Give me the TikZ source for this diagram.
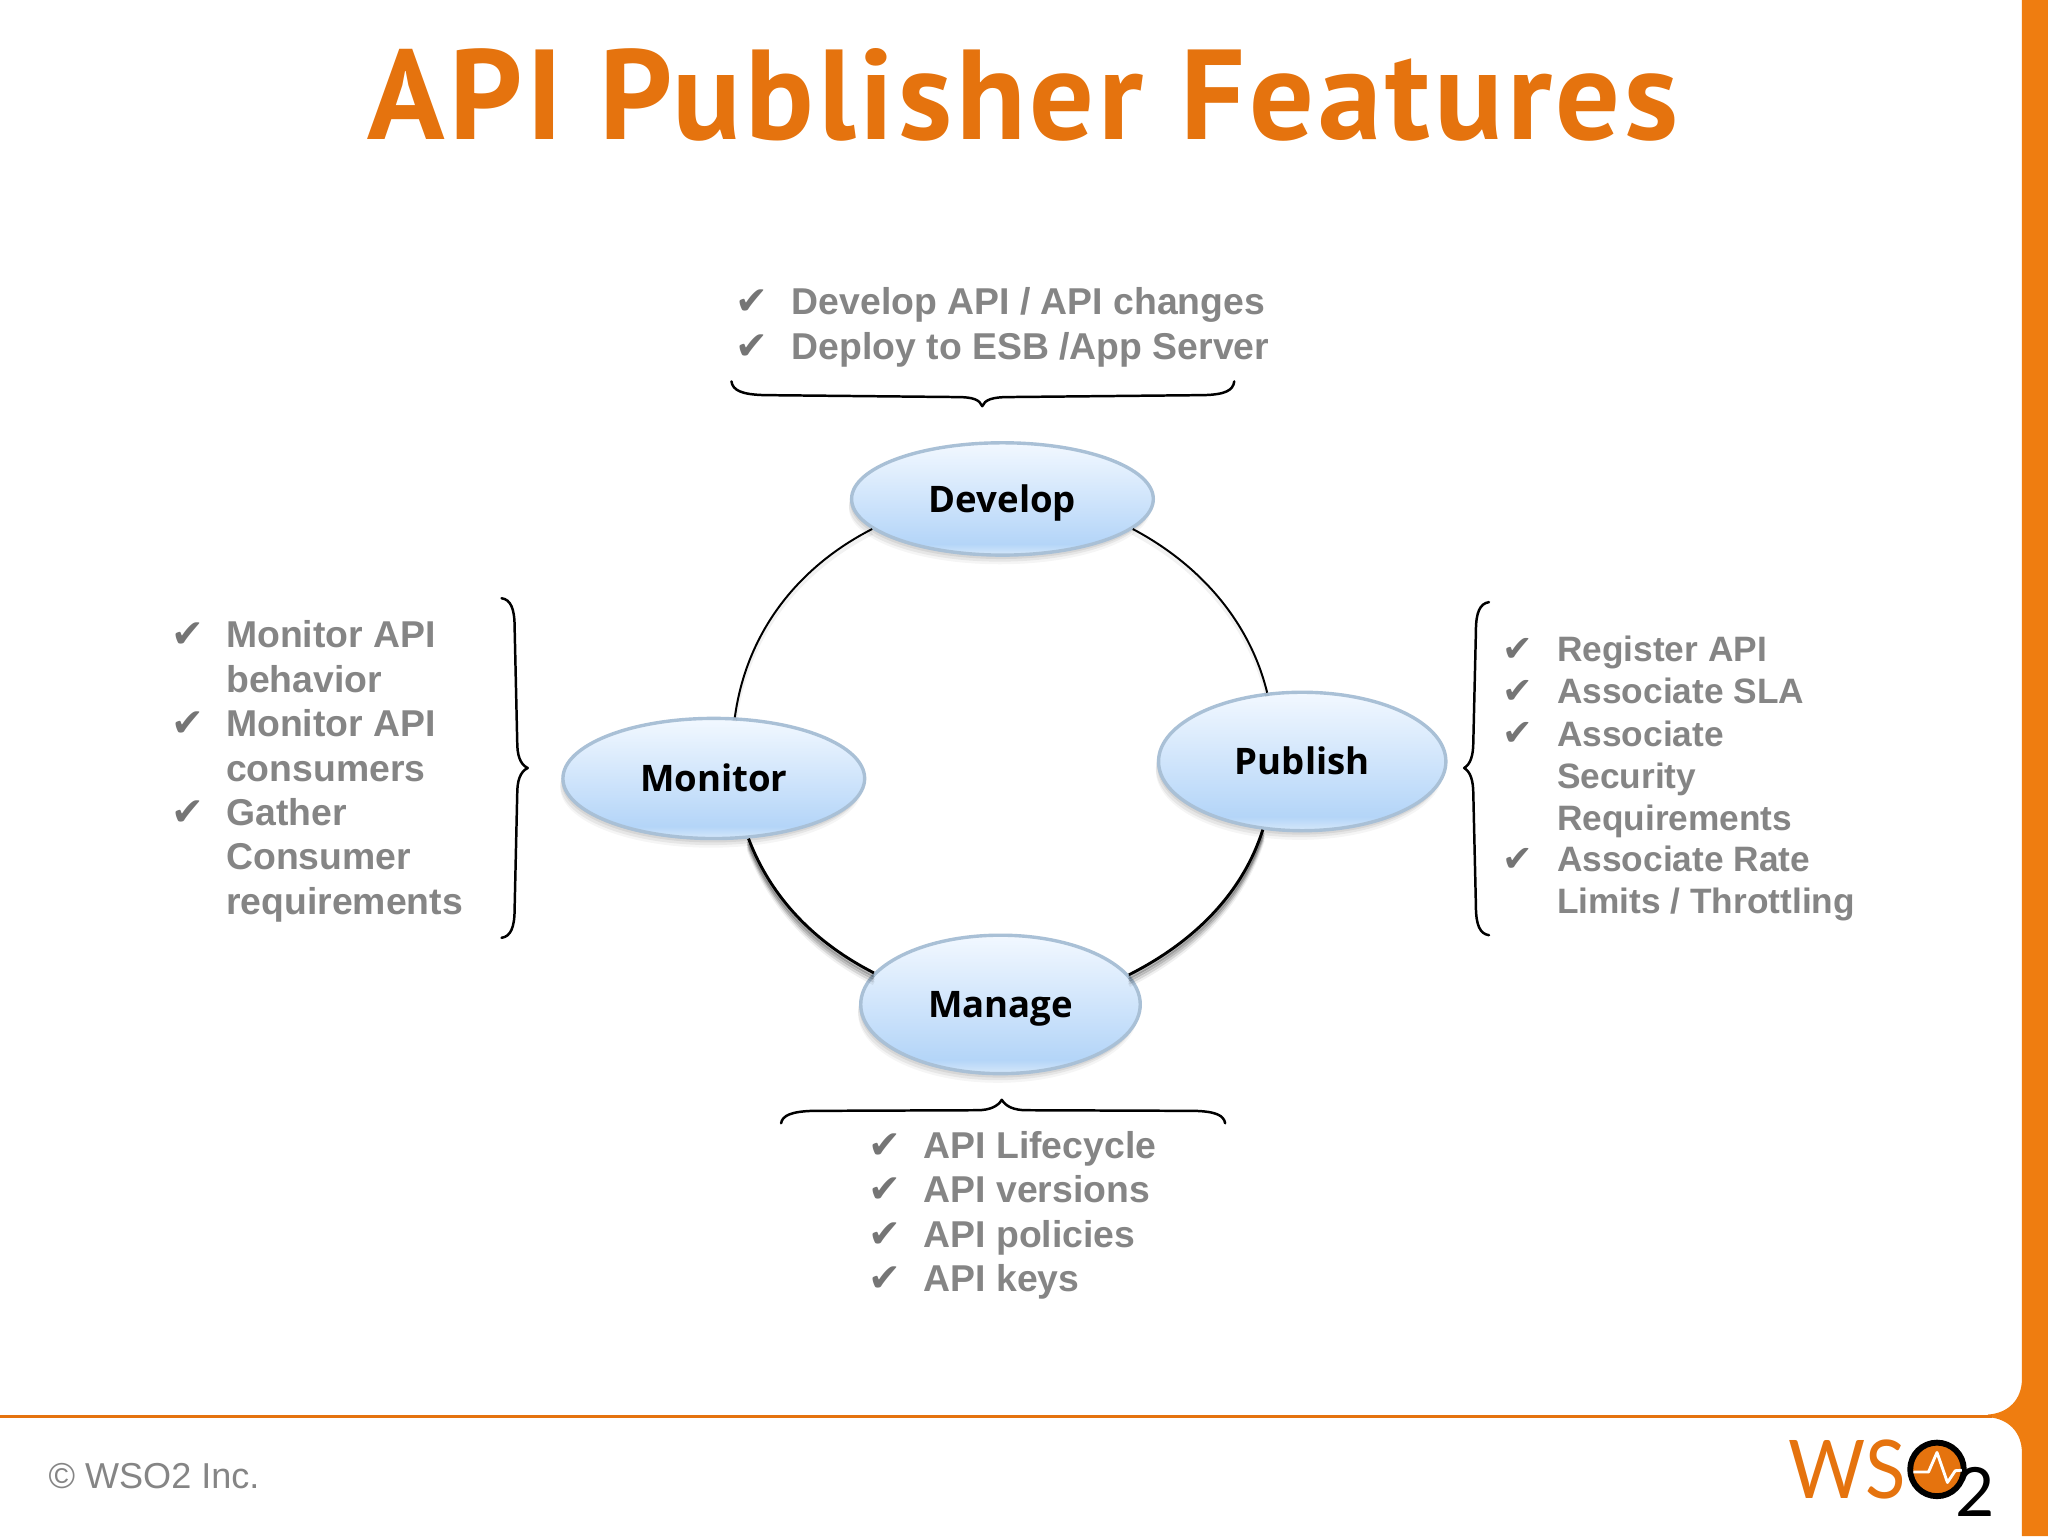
\documentclass[tikz,border=0pt]{standalone}
\usepackage{fontspec}
\usetikzlibrary{shapes.geometric,shadows}
\setmainfont{Liberation Sans}
\newfontfamily\titlefont[LetterSpace=3.1]{PT Sans}
\newfontfamily\bubfont{Open Sans}
\newfontfamily\chkfont{DejaVu Sans}
\newfontfamily\logofont{Lato}
\definecolor{brand}{HTML}{E5730E}
\definecolor{barorange}{HTML}{EF7D10}
\definecolor{listgray}{HTML}{858585}
\definecolor{chkgray}{HTML}{757575}
\definecolor{rim}{HTML}{A9C0D6}
\definecolor{bubtop}{HTML}{F2F8FF}
\definecolor{bubmid}{HTML}{B4D5F8}
\definecolor{bublow}{HTML}{D6E8FA}
\pgfdeclareverticalshading{bubshade}{100bp}{
  color(0bp)=(bublow);
  color(25bp)=(bublow);
  color(30bp)=(bubmid);
  color(75bp)=(bubtop);
  color(100bp)=(bubtop)}
\tikzset{
  softshadow/.style={
    general shadow={shadow xshift=-1pt,shadow yshift=-1pt,fill=black,opacity=.07},
    general shadow={shadow xshift=-1pt,shadow yshift=-3pt,fill=black,opacity=.07},
    general shadow={shadow xshift=-2pt,shadow yshift=-5pt,fill=black,opacity=.06},
    general shadow={shadow xshift=-2pt,shadow yshift=-7pt,fill=black,opacity=.04}},
  bubble/.style={ellipse,softshadow,draw=rim,line width=2.6pt,shading=bubshade,shading angle=0,
    inner sep=0pt,text=black,text height=20pt,text depth=0pt,font=\bubfont\bfseries\fontsize{28}{32}\selectfont},
  item/.style={anchor=base west,inner sep=0pt,align=left,text=listgray,font=\bfseries\fontsize{28.6}{34}\selectfont},
  itemr/.style={anchor=base west,inner sep=0pt,align=left,text=listgray,font=\bfseries\fontsize{27}{32}\selectfont},
  tick/.style={anchor=base west,inner sep=0pt,text=chkgray,font=\chkfont\fontsize{30}{34}\selectfont},
  tickr/.style={anchor=base west,inner sep=0pt,text=chkgray,font=\chkfont\fontsize{28}{32}\selectfont},
  bracket/.style={draw=black,line width=1.9pt,line cap=round,line join=round},
}
\newcommand{\ringtop}{
  (develop.193.3) .. controls +(-58.8,30.1) and +(8.5,-63) .. (monitor.71.2)
  (publish.117.7) .. controls +(-13.2,-54.4) and +(51.3,27.1) .. (develop.-13.3)}
\newcommand{\ringbot}{
  (monitor.-60.4) .. controls +(17.4,45.7) and +(-45,-23) .. (manage.166)
  (manage.13.5) .. controls +(48.5,-24.5) and +(-16,50) .. (publish.240.4)}
\begin{document}
\begin{tikzpicture}[x=1pt,y=-1pt]
\useasboundingbox (0,0) rectangle (1568,1176);
\fill[white] (0,0) rectangle (1568,1176);
% frame
\fill[barorange] (1548,0) -- (1568,0) -- (1568,1176) -- (1548,1176) -- (1548,1112)
  .. controls (1548,1097) and (1538,1086) .. (1522,1085) -- (1522,1083)
  .. controls (1538,1082) and (1548,1071) .. (1548,1056) -- cycle;
\fill[brand] (0,1083) rectangle (1525,1085.4);
% title
\node[anchor=base,inner sep=0pt,text=brand,font=\titlefont\bfseries\fontsize{98}{110}\selectfont] (title) at (783.5,107) {API Publisher Features};
% bubbles
\node[bubble,minimum width=231pt,minimum height=86pt] (develop) at (767.5,382) {Develop};
\node[bubble,minimum width=231pt,minimum height=92pt] (monitor) at (546.5,596) {Monitor};
\node[bubble,minimum width=220pt,minimum height=106pt] (publish) at (997,583) {Publish};
\node[bubble,minimum width=214pt,minimum height=106pt] (manage) at (766,769) {Manage};
% ring
\draw[black,line width=3pt,opacity=.05,transform canvas={shift={(0pt,-3pt)}}] \ringtop;
\draw[black,line width=3pt,opacity=.24,transform canvas={shift={(0pt,-2pt)}}] \ringbot;
\draw[black,line width=3pt,opacity=.18,transform canvas={shift={(0pt,-4pt)}}] \ringbot;
\draw[black,line width=3pt,opacity=.11,transform canvas={shift={(0pt,-6pt)}}] \ringbot;
\draw[black,line width=3pt,opacity=.06,transform canvas={shift={(0pt,-8pt)}}] \ringbot;
\draw[draw=black,line width=1.5pt] \ringtop;
\draw[draw=black,line width=2.2pt] \ringbot;
% develop list
\node[tick] (t1) at (563,241) {✔};
\node[item] (d1) at (606,241) {Develop API / API changes};
\node[tick] (t2) at (563,275) {✔};
\node[item] (d2) at (606,275) {Deploy to ESB /App Server};
\draw[bracket] (560,292) .. controls (561,299) and (568,302) .. (585,302.5) -- (733,304)
  .. controls (745,304) and (750,306) .. (752,311) .. controls (754,306) and (760,304) .. (772,304)
  -- (922,302.5) .. controls (938,302) and (944,299) .. (945,292);
% monitor list
\node[tick] (t3) at (131,496) {✔};
\node[item] (m1) at (173,530) {Monitor API\\behavior};
\node[tick] (t4) at (131,564) {✔};
\node[item] (m2) at (173,598) {Monitor API\\consumers};
\node[tick] (t5) at (131,632) {✔};
\node[item] (m3) at (173,700) {Gather\\Consumer\\requirements};
\draw[bracket] (384,458) .. controls (391,459) and (394,466) .. (394,480) -- (396,568)
  .. controls (396,578) and (398,585) .. (404,588) .. controls (398,591) and (396,598) .. (396,608)
  -- (394,696) .. controls (394,710) and (391,717) .. (384,718);
% publish list
\node[tickr] (t6) at (1150,506.5) {✔};
\node[itemr] (p1) at (1192,506.5) {Register API};
\node[tickr] (t7) at (1150,538.5) {✔};
\node[itemr] (p2) at (1192,538.5) {Associate SLA};
\node[tickr] (t8) at (1150,571) {✔};
\node[itemr] (p3) at (1192,635.5) {Associate\\Security\\Requirements};
\node[tickr] (t9) at (1150,667.5) {✔};
\node[itemr] (p4) at (1192,699.5) {Associate Rate\\Limits / Throttling};
\draw[bracket] (1140,461) .. controls (1133,462) and (1130,469) .. (1130,483) -- (1128,568)
  .. controls (1128,578) and (1126,585) .. (1121,588) .. controls (1126,591) and (1128,598) .. (1128,608)
  -- (1130,694) .. controls (1130,708) and (1133,715) .. (1140,716);
% manage list
\node[tick] (t10) at (665,887) {✔};
\node[item] (g1) at (707,887) {API Lifecycle};
\node[tick] (t11) at (665,921) {✔};
\node[item] (g2) at (707,921) {API versions};
\node[tick] (t12) at (665,955) {✔};
\node[item] (g3) at (707,955) {API policies};
\node[tick] (t13) at (665,989) {✔};
\node[item] (g4) at (707,989) {API keys};
\draw[bracket] (598,860) .. controls (599,854) and (606,851) .. (622,850.5) -- (748,850)
  .. controls (758,850) and (764,847) .. (767,842) .. controls (770,847) and (776,850) .. (786,850)
  -- (915,850.5) .. controls (931,851) and (937,854) .. (938,860);
% footer
\node[anchor=base west,inner sep=0pt,text=listgray,font=\fontsize{27.6}{32}\selectfont] (copy) at (37,1139.5) {© WSO2 Inc.};
% logo
\node[anchor=base west,inner sep=0pt,text=brand,xscale=.92,font=\logofont\fontsize{62}{70}\selectfont] (logows) at (1369,1147) {WS};
\node[circle,draw=black,line width=4.5pt,fill=brand,minimum size=41pt,inner sep=0pt] (logoo) at (1483,1125) {};
\draw[white,line width=2.2pt,line join=round] (1465,1127) -- (1476.5,1127) -- (1483,1112) -- (1491,1135) -- (1497,1126) -- (1502,1125.6);
\node[anchor=base west,inner sep=0pt,text=black,font=\logofont\fontsize{52}{60}\selectfont] (logotwo) at (1497,1161) {2};
\end{tikzpicture}
\end{document}
